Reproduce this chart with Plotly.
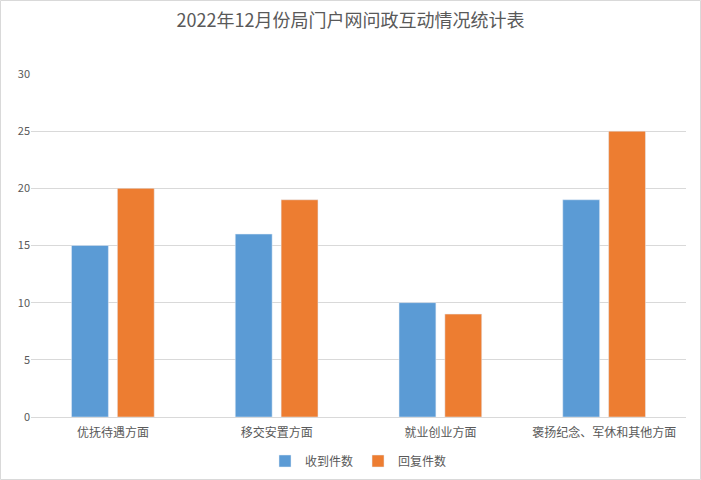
import plotly.graph_objects as go

# 数据
categories = ["优抚待遇方面", "移交安置方面", "就业创业方面", "褒扬纪念、军休和其他方面"]
received = [15, 16, 10, 19]
replied = [20, 19, 9, 25]
y_ticks = [0, 5, 10, 15, 20, 25, 30]

FONT = "Noto Sans CJK SC, Microsoft YaHei, sans-serif"
W, H = 701, 480
ML, MR, MT, MB = 31, 15, 74, 63
pw, ph = W - ML - MR, H - MT - MB

fig = go.Figure()
fig.add_trace(go.Bar(x=categories, y=received, name="收到件数", marker_color="#5B9BD5"))
fig.add_trace(go.Bar(x=categories, y=replied, name="回复件数", marker_color="#ED7D31"))

fig.update_layout(
    width=W,
    height=H,
    margin=dict(l=ML, r=MR, t=MT, b=MB, autoexpand=False),
    paper_bgcolor="white",
    plot_bgcolor="white",
    font=dict(family=FONT, color="#595959", size=12),
    title=dict(
        text="2022年12月份局门户网问政互动情况统计表",
        x=0.5, xanchor="center", y=1 - 21 / H, yanchor="middle",
        font=dict(family=FONT, size=18, color="#595959"),
    ),
    barmode="group",
    bargap=0.44,
    bargroupgap=0.196,
    legend=dict(
        orientation="h", x=0.5, xanchor="center", y=-(461 - 417) / ph, yanchor="middle",
        font=dict(size=12, color="#595959"),
        itemwidth=30, tracegroupgap=0,
    ),
    xaxis=dict(
        showgrid=False, showline=True, linecolor="#D9D9D9", linewidth=1,
        ticks="", tickfont=dict(size=12, color="#595959"), automargin=False,
        ticklabelstandoff=5,
    ),
    yaxis=dict(
        range=[0, 30], tickvals=y_ticks, showgrid=True, gridcolor="#D9D9D9",
        zeroline=False, showline=False, ticks="", automargin=False,
        tickfont=dict(size=11, color="#595959"),
    ),
    shapes=[dict(
        type="rect", xref="paper", yref="paper",
        x0=-(ML - 0.5) / pw, x1=1 + (MR - 0.5) / pw,
        y0=-(MB - 0.5) / ph, y1=1 + (MT - 0.5) / ph,
        line=dict(color="#D9D9D9", width=1), layer="below",
    )],
)

# 去掉页面默认边距, 让图表贴齐窗口左上角; 隐藏工具栏
fig.write_html(
    "out.html",
    config={"displayModeBar": False},
    post_script="document.body.style.margin='0';",
)
